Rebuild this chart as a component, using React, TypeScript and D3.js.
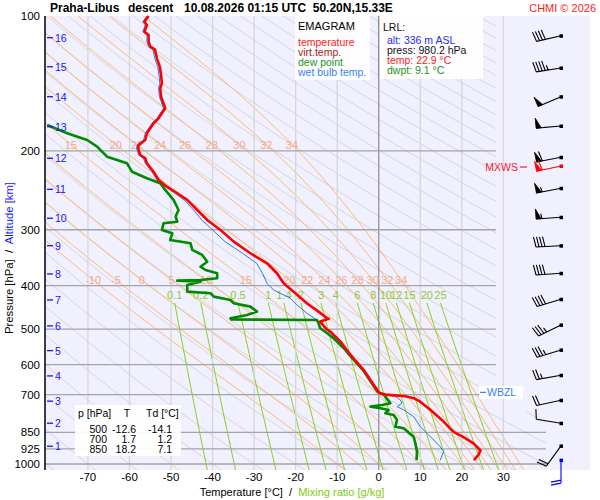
import React from 'react';
import * as d3 from 'd3';

// ---------------- data ----------------
const pressureTicks = [100, 200, 300, 400, 500, 600, 700, 850, 925, 1000];
const isobarLines = [200, 300, 400, 500, 600, 700, 850, 925, 1000];
const tempTicks = [-70, -60, -50, -40, -30, -20, -10, 0, 10, 20, 30];

const altitudeKm = [16, 15, 14, 13, 12, 11, 10, 9, 8, 7, 6, 5, 4, 3, 2, 1];
const altitudeP = [111.8, 129.8, 151.4, 176.6, 207.8, 243.7, 282.8, 325.6, 376.5, 430.4, 491.8, 558.4, 635.9, 723.9, 810.9, 912.7];

const thetaW = [-10, -5, 0, 5, 10, 15, 20, 22, 24, 26, 28, 30, 32, 34];
const thetaWUpperLabels = [15, 20, 22, 24, 26, 28, 30, 32, 34];
const mixRatios = [0.1, 0.2, 0.5, 1, 1.4, 2, 3, 4, 6, 8, 10, 12, 15, 20, 25];

const tempP = [100, 103, 104.7, 108.4, 110.3, 114.1, 117.1, 118.7, 124.3, 129.8, 135.4, 141.3, 145, 151.4, 160.7, 169.2, 173.6, 182.7, 189.1, 194, 197.4, 204.3, 207.8, 213.2, 222.6, 232.3, 240.4, 248.7, 257.4, 271, 285.3, 300.3, 318.9, 338.5, 356.4, 375.2, 394.9, 412.4, 437.7, 457, 472.8, 474, 481, 500, 506.5, 533, 571, 617, 666, 695, 700, 706, 713, 726, 757, 804, 839, 850, 869, 899, 933, 954, 980.2];
const tempT = [-55.4, -56.4, -55.8, -56.4, -55.4, -55.4, -55.0, -53.9, -53.4, -52.7, -52.4, -52.2, -52.6, -52.4, -51.4, -53.0, -54.2, -55.8, -56.2, -57.8, -57.9, -57.4, -56.2, -55.8, -54.2, -53.0, -51.0, -48.5, -46.1, -43.7, -41.3, -38.1, -34.9, -30.9, -26.9, -24.5, -22.9, -20.5, -17.3, -14.5, -12.4, -12.0, -14.1, -12.6, -11.6, -9.2, -6.8, -3.6, -1.2, 0.2, 1.7, 6.4, 8.4, 10.0, 12.4, 15.6, 17.5, 18.2, 20.2, 22.8, 24.5, 24.0, 22.9];

const wetP = [100, 103, 104.7, 108.4, 110.3, 114.1, 117.1, 118.7, 124.3, 129.8, 135.4, 141.3, 145, 151.4, 160.7, 169.2, 173.6, 182.7, 189.1, 194, 197.4, 204.3, 207.8, 213.2, 222.6, 232.3, 240.4, 248.7, 257.4, 271, 285.3, 300.3, 318.9, 338.5, 356.4, 375.2, 394.9, 408.8, 426.6, 441.5, 460.8, 476.9, 485.1, 510.6, 547, 571, 617, 666, 695, 698, 707, 719.4, 731.7, 744.6, 757.4, 783.9, 825.3, 853.8, 883.6, 914.6, 938.4, 980.2];
const wetT = [-55.8, -56.8, -56.2, -56.8, -55.8, -55.8, -55.4, -54.4, -53.9, -53.2, -52.9, -52.7, -53.0, -52.8, -51.8, -53.4, -54.6, -56.2, -56.6, -58.2, -58.3, -57.8, -56.6, -56.2, -54.6, -53.4, -51.4, -49.0, -46.8, -44.6, -42.6, -40.0, -37.0, -32.8, -29.4, -28.0, -26.9, -25.3, -21.3, -19.7, -17.3, -14.9, -14.1, -11.6, -8.4, -7.0, -3.8, -1.4, 0.0, 0.4, 4.0, 5.2, 5.6, 4.4, 6.0, 8.4, 10.0, 11.6, 13.2, 14.8, 15.6, 14.8];

const dewP = [175.1, 182.7, 189.1, 195.7, 206.1, 213.2, 222.6, 230.2, 236.2, 244.5, 257.4, 271, 280.5, 287.8, 290.2, 300.3, 305.5, 316.2, 321.6, 332.8, 341.5, 353.5, 362.7, 368.9, 375.2, 384.9, 388.3, 389.7, 391.7, 398.4, 412.4, 415.8, 423.1, 430.4, 437.7, 445.4, 457, 464.9, 472.8, 475.7, 476.9, 485.1, 497.7, 510.6, 523.9, 551.6, 571, 617, 666, 690, 700, 707.3, 731.7, 738.1, 744.6, 750.8, 757.4, 770.3, 777.1, 797.4, 825.3, 832.1, 846.8, 850, 869, 899, 938.4, 980.2];
const dewT = [-79.8, -75.0, -70.2, -67.8, -65.4, -60.6, -59.4, -55.8, -52.6, -51.4, -49.4, -48.2, -48.9, -48.5, -51.8, -52.2, -49.7, -50.2, -45.3, -44.9, -42.5, -41.3, -42.9, -41.7, -38.9, -38.9, -42.9, -48.5, -42.9, -46.1, -46.1, -40.5, -39.7, -35.7, -34.9, -30.9, -29.3, -31.7, -35.7, -35.5, -14.9, -14.5, -14.1, -12.4, -10.9, -8.4, -7.1, -3.8, -1.4, -0.3, 1.2, 1.6, 2.8, 0.8, -2.0, 0.4, 2.4, 1.6, 3.6, 4.4, 4.0, 6.0, 7.0, 7.1, 8.4, 8.8, 9.2, 9.1];

const windP = [110.7, 130.6, 151.4, 176, 206.7, 216.2, 242.4, 281.3, 325.6, 375.2, 428.8, 489.3, 556.4, 633.7, 720.5, 810.9, 911.3];
const windDir = [257, 261, 247, 265, 259, 258, 259, 266, 267, 266, 253, 244, 253, 260, 258, 279, 216];
const windSpd = [40, 45, 50, 50, 60, 60, 55, 55, 40, 40, 40, 35, 35, 25, 20, 10, 20];
const maxWindIndex = 5;
const surfaceWindP = 980.2;
const surfaceWindDir = 180;
const surfaceWindSpd = 20;
const wbzlP = 692;

const tableHeader = ['p [hPa]', 'T', 'Td [°C]'];
const tableP = ['500', '700', '850'];
const tableT = ['-12.6', '1.7', '18.2'];
const tableTd = ['-14.1', '1.2', '7.1'];

const legendItems = ['temperature', 'virt.temp.', 'dew point', 'wet bulb temp.'];
const legendColors = ['#ff1a1a', '#a82020', '#1a961a', '#3a80f0'];
const lrlItems = ['alt: 336 m ASL', 'press: 980.2 hPa', 'temp: 22.9 °C', 'dwpt: 9.1 °C'];
const lrlColors = ['#2828ff', '#111111', '#ff1a1a', '#1a961a'];

// ---------------- physics helpers for background lines ----------------
function esat(tc: number) {
  return 6.112 * Math.exp((17.67 * tc) / (tc + 243.5));
}
function pseudoAdiabat(twC: number): [number, number][] {
  const Rd = 287.04, cp = 1005.7, L = 2.501e6, eps = 0.622;
  const f = (lnp: number, T: number) => {
    const p = Math.exp(lnp);
    const tc = T - 273.15;
    const e = esat(tc);
    const rs = (eps * e) / (p - e);
    return (Rd * T + L * rs) / (cp + (L * L * rs * eps) / (Rd * T * T));
  };
  const integrate = (h: number, lnEnd: number) => {
    const out: [number, number][] = [];
    let lnp = Math.log(1000);
    let T = twC + 273.15;
    while ((h < 0 && lnp > lnEnd) || (h > 0 && lnp < lnEnd)) {
      const k1 = f(lnp, T);
      const k2 = f(lnp + h / 2, T + (h / 2) * k1);
      const k3 = f(lnp + h / 2, T + (h / 2) * k2);
      const k4 = f(lnp + h, T + h * k3);
      T += (h * (k1 + 2 * k2 + 2 * k3 + k4)) / 6;
      lnp += h;
      out.push([Math.exp(lnp), T - 273.15]);
    }
    return out;
  };
  const up = integrate(-0.01, Math.log(99));
  const down = integrate(0.01, Math.log(1040));
  return [...down.reverse(), [1000, twC], ...up];
}
function dryAdiabat(thetaC: number): [number, number][] {
  const pts: [number, number][] = [];
  for (let i = 0; i <= 60; i++) {
    const p = 99 * Math.pow(1040 / 99, i / 60);
    pts.push([p, (thetaC + 273.15) * Math.pow(p / 1000, 0.2857) - 273.15]);
  }
  return pts;
}
function mixT(r: number, p: number) {
  const e = ((r / 1000) * p) / (0.622 + r / 1000);
  const l = Math.log(e / 6.112);
  return (243.5 * l) / (17.67 - l);
}
function interpT(curve: [number, number][], p: number) {
  for (let i = 1; i < curve.length; i++) {
    const [p0, t0] = curve[i - 1];
    const [p1, t1] = curve[i];
    if ((p0 - p) * (p1 - p) <= 0) {
      const k = (Math.log(p) - Math.log(p0)) / (Math.log(p1) - Math.log(p0));
      return t0 + k * (t1 - t0);
    }
  }
  return NaN;
}

const FONT = 'Liberation Sans, Arial, Helvetica, sans-serif';

function Barb(props: { cx: number; cy: number; dir: number; spd: number; color: string; len?: number }) {
  const { cx, cy, dir, spd, color } = props;
  const len = props.len ?? 25;
  const a = (dir * Math.PI) / 180;
  const ux = Math.sin(a), uy = -Math.cos(a);
  const bx = -uy, by = ux;
  const ex = cx + ux * len, ey = cy + uy * len;
  let s = Math.round(spd / 5) * 5;
  const lines: string[] = [`M${cx},${cy}L${ex},${ey}`];
  const polys: string[] = [];
  let pos = 0;
  const bl = 10;
  while (s >= 50) {
    const p0x = ex - ux * pos, p0y = ey - uy * pos;
    const p1x = ex - ux * (pos + 5), p1y = ey - uy * (pos + 5);
    polys.push(`M${p0x},${p0y}L${p0x + bx * bl},${p0y + by * bl}L${p1x},${p1y}Z`);
    pos += 6;
    s -= 50;
  }
  while (s >= 10) {
    const px = ex - ux * pos, py = ey - uy * pos;
    lines.push(`M${px},${py}L${px + bx * bl + ux * 2},${py + by * bl + uy * 2}`);
    pos += 3;
    s -= 10;
  }
  if (s >= 5) {
    const px = ex - ux * pos, py = ey - uy * pos;
    lines.push(`M${px},${py}L${px + bx * bl * 0.5 + ux},${py + by * bl * 0.5 + uy}`);
  }
  return (
    <g>
      <path d={lines.join('')} stroke={color} strokeWidth={1.1} fill="none" />
      {polys.map((d, i) => (
        <path key={i} d={d} fill={color} stroke={color} strokeWidth={0.8} />
      ))}
      <rect x={cx - 1.5} y={cy - 1.5} width={3.5} height={3.5} fill={color} />
    </g>
  );
}

export default function App() {
  const x = d3.scaleLinear().domain([-80, 30]).range([46.4, 503.4]);
  const y = d3.scaleLog().domain([100, 1000]).range([16, 464]);
  const line = d3
    .line<[number, number]>()
    .x((d) => x(d[1]))
    .y((d) => y(d[0]));

  const zip = (ps: number[], ts: number[]) => ps.map((p, i) => [p, ts[i]] as [number, number]);

  const dryThetas = d3.range(-80, 330, 10);
  const moistCurves = thetaW.map((tw) => pseudoAdiabat(tw));
  const mixTop = 437;
  const mixBottom = 1040;
  const lowLabelY = 280;
  const upLabelY = 144.5;
  const lowLabelP = y.invert(lowLabelY);
  const upLabelP = y.invert(upLabelY);

  const plotLeft = 45, plotTop = 16, plotBottom = 470;
  const bgRight = 590;
  const stationX = 561;

  return (
    <svg
      width={600}
      height={500}
      viewBox="0 0 600 500"
      style={{ position: 'absolute', left: 0, top: 0, background: '#ffffff' }}
      fontFamily={FONT}
    >
      <defs>
        <clipPath id="plotClip">
          <path d={`M${plotLeft},${plotTop}H496V412H546V${plotBottom}H${plotLeft}Z`} />
        </clipPath>
      </defs>
      <rect x={0} y={0} width={600} height={500} fill="#ffffff" />
      <rect x={plotLeft} y={plotTop} width={bgRight - plotLeft} height={plotBottom - plotTop} fill="#f0f0ff" />

      <g clipPath="url(#plotClip)">
        {dryThetas.map((th) => (
          <path key={'d' + th} d={line(dryAdiabat(th)) || ''} stroke="#d2d2d8" strokeWidth={0.9} fill="none" />
        ))}
        {moistCurves.map((c, i) => (
          <path key={'m' + i} d={line(c) || ''} stroke="#ffb35c" strokeWidth={0.9} fill="none" />
        ))}
        {mixRatios.map((r) => {
          const pts: [number, number][] = d3.range(0, 21).map((i) => {
            const p = mixTop * Math.pow(mixBottom / mixTop, i / 20);
            return [p, mixT(r, p)];
          });
          return <path key={'w' + r} d={line(pts) || ''} stroke="#8cd11a" strokeWidth={1} fill="none" />;
        })}
      </g>

      {tempTicks.map((t) => (
        <line
          key={'it' + t}
          x1={x(t)}
          x2={x(t)}
          y1={plotTop}
          y2={plotBottom}
          stroke={t === 0 ? '#8c8c8c' : '#d6d6d6'}
          strokeWidth={t === 0 ? 1.2 : 1.3}
        />
      ))}
      {isobarLines.map((p) => (
        <line
          key={'ib' + p}
          x1={plotLeft}
          x2={p >= 800 ? 546 : 496}
          y1={y(p)}
          y2={y(p)}
          stroke="#a4a4a4"
          strokeWidth={1.3}
        />
      ))}

      {/* pseudo-adiabat labels */}
      {thetaW.map((tw, i) => (
        <text
          key={'ml' + tw}
          x={x(interpT(moistCurves[i], lowLabelP))}
          y={lowLabelY + 4}
          fontSize={11}
          fill="#f7a98a"
          textAnchor="middle"
        >
          {tw}
        </text>
      ))}
      {thetaWUpperLabels.map((tw) => {
        const c = moistCurves[thetaW.indexOf(tw)];
        return (
          <text key={'mu' + tw} x={x(interpT(c, upLabelP))} y={upLabelY + 4} fontSize={11} fill="#f7a98a" textAnchor="middle">
            {tw}
          </text>
        );
      })}
      {/* mixing ratio labels */}
      {mixRatios.map((r) => (
        <text key={'wl' + r} x={x(mixT(r, mixTop))} y={y(mixTop) - 4} fontSize={11} fill="#92cc2e" textAnchor="middle">
          {r}
        </text>
      ))}

      {/* profiles */}
      <path d={line(zip(wetP, wetT)) || ''} stroke="#2f78e6" strokeWidth={1} fill="none" />
      <path d={line(zip(dewP, dewT)) || ''} stroke="#008a00" strokeWidth={2.6} fill="none" strokeLinejoin="round" />
      <path d={line(zip(tempP, tempT)) || ''} stroke="#ff0000" strokeWidth={2.6} fill="none" strokeLinejoin="round" />

      {/* left axis */}
      <line x1={plotLeft} x2={plotLeft} y1={plotTop} y2={plotBottom} stroke="#000" strokeWidth={1.5} />
      {pressureTicks.map((p) => (
        <text key={'pt' + p} x={40} y={y(p) + 4} fontSize={11.5} textAnchor="end" fill="#000">
          {p}
        </text>
      ))}
      {altitudeKm.map((km, i) => (
        <g key={'ak' + km}>
          <line x1={47} x2={53} y1={y(altitudeP[i])} y2={y(altitudeP[i])} stroke="#1414ff" strokeWidth={1.3} />
          <text x={55} y={y(altitudeP[i]) + 4} fontSize={10.5} fill="#1414ff">
            {km}
          </text>
        </g>
      ))}
      {tempTicks.map((t) => (
        <text key={'tt' + t} x={x(t)} y={481} fontSize={11.5} textAnchor="middle" fill="#000">
          {t}
        </text>
      ))}

      {/* axis titles */}
      <text
        transform="translate(12.5,258) rotate(-90)"
        fontSize={11}
        textAnchor="middle"
        textLength={152}
        lengthAdjust="spacingAndGlyphs"
        style={{ whiteSpace: 'pre' }}
      >
        <tspan fill="#000">{'Pressure [hPa]  /  '}</tspan>
        <tspan fill="#1414ff">Altitude [km]</tspan>
      </text>
      <text x={292} y={496} fontSize={11} textAnchor="middle" style={{ whiteSpace: 'pre' }}>
        <tspan fill="#000">{'Temperature [°C]  /  '}</tspan>
        <tspan fill="#7ccc10">Mixing ratio [g/kg]</tspan>
      </text>

      {/* title */}
      <text x={50} y={12} fontSize={12} fontWeight="bold" fill="#000">
        Praha-Libus
      </text>
      <text x={128} y={12} fontSize={12} fontWeight="bold" fill="#000">
        descent
      </text>
      <text x={184} y={12} fontSize={12} fontWeight="bold" fill="#000" style={{ whiteSpace: 'pre' }}>
        {'10.08.2026 01:15 UTC  50.20N,15.33E'}
      </text>
      <text x={596} y={12} fontSize={11} textAnchor="end" fill="#ff1a1a">
        CHMI © 2026
      </text>

      {/* legend box */}
      <rect x={295} y={16} width={75} height={64} fill="#ffffff" opacity={0.92} />
      <text x={298} y={30} fontSize={11} fill="#000">
        EMAGRAM
      </text>
      {legendItems.map((s, i) => (
        <text key={'lg' + i} x={298} y={46 + i * 10} fontSize={10.5} fill={legendColors[i]}>
          {s}
        </text>
      ))}

      {/* LRL box */}
      <rect x={379} y={16} width={104} height={63} fill="#ffffff" opacity={0.92} />
      <line x1={x(0)} x2={x(0)} y1={16} y2={79} stroke="#8c8c8c" strokeWidth={1.2} />
      <text x={383} y={31} fontSize={10.5} fill="#111">
        LRL:
      </text>
      {lrlItems.map((s, i) => (
        <text key={'lr' + i} x={387} y={44 + i * 10} fontSize={10.5} fill={lrlColors[i]}>
          {s}
        </text>
      ))}

      {/* table */}
      <rect x={75} y={405} width={106} height={51} fill="#ffffff" opacity={0.92} />
      <text x={78} y={417} fontSize={10.5} fill="#000">
        {tableHeader[0]}
      </text>
      <text x={127} y={417} fontSize={10.5} fill="#000" textAnchor="middle">
        {tableHeader[1]}
      </text>
      <text x={146} y={417} fontSize={10.5} fill="#000">
        {tableHeader[2]}
      </text>
      {tableP.map((p, i) => (
        <g key={'tr' + i}>
          <text x={107} y={433 + i * 10} fontSize={10.5} textAnchor="end" fill="#000">
            {p}
          </text>
          <text x={136} y={433 + i * 10} fontSize={10.5} textAnchor="end" fill="#000">
            {tableT[i]}
          </text>
          <text x={172} y={433 + i * 10} fontSize={10.5} textAnchor="end" fill="#000">
            {tableTd[i]}
          </text>
        </g>
      ))}

      {/* WBZL */}
      <rect x={479} y={y(wbzlP) - 6.5} width={44} height={13} fill="#ffffff" opacity={0.95} />
      <line x1={480} x2={486} y1={y(wbzlP)} y2={y(wbzlP)} stroke="#3a80f0" strokeWidth={1.2} />
      <text x={487} y={y(wbzlP) + 4} fontSize={10.5} fill="#3a80f0">
        WBZL
      </text>

      {/* MXWS */}
      <line x1={520} x2={527} y1={y(windP[maxWindIndex]) + 1} y2={y(windP[maxWindIndex]) + 1} stroke="#ff1a1a" strokeWidth={1.2} />
      <text x={518} y={y(windP[maxWindIndex]) + 5} fontSize={10.5} textAnchor="end" fill="#ff1a1a">
        MXWS
      </text>

      {/* wind barbs */}
      {windP.map((p, i) => (
        <Barb
          key={'wb' + i}
          cx={stationX}
          cy={y(p)}
          dir={windDir[i]}
          spd={windSpd[i]}
          color={i === maxWindIndex ? '#ff0000' : '#000000'}
        />
      ))}
      <Barb cx={stationX} cy={y(surfaceWindP)} dir={surfaceWindDir} spd={surfaceWindSpd} color="#0000ff" len={23} />
    </svg>
  );
}
